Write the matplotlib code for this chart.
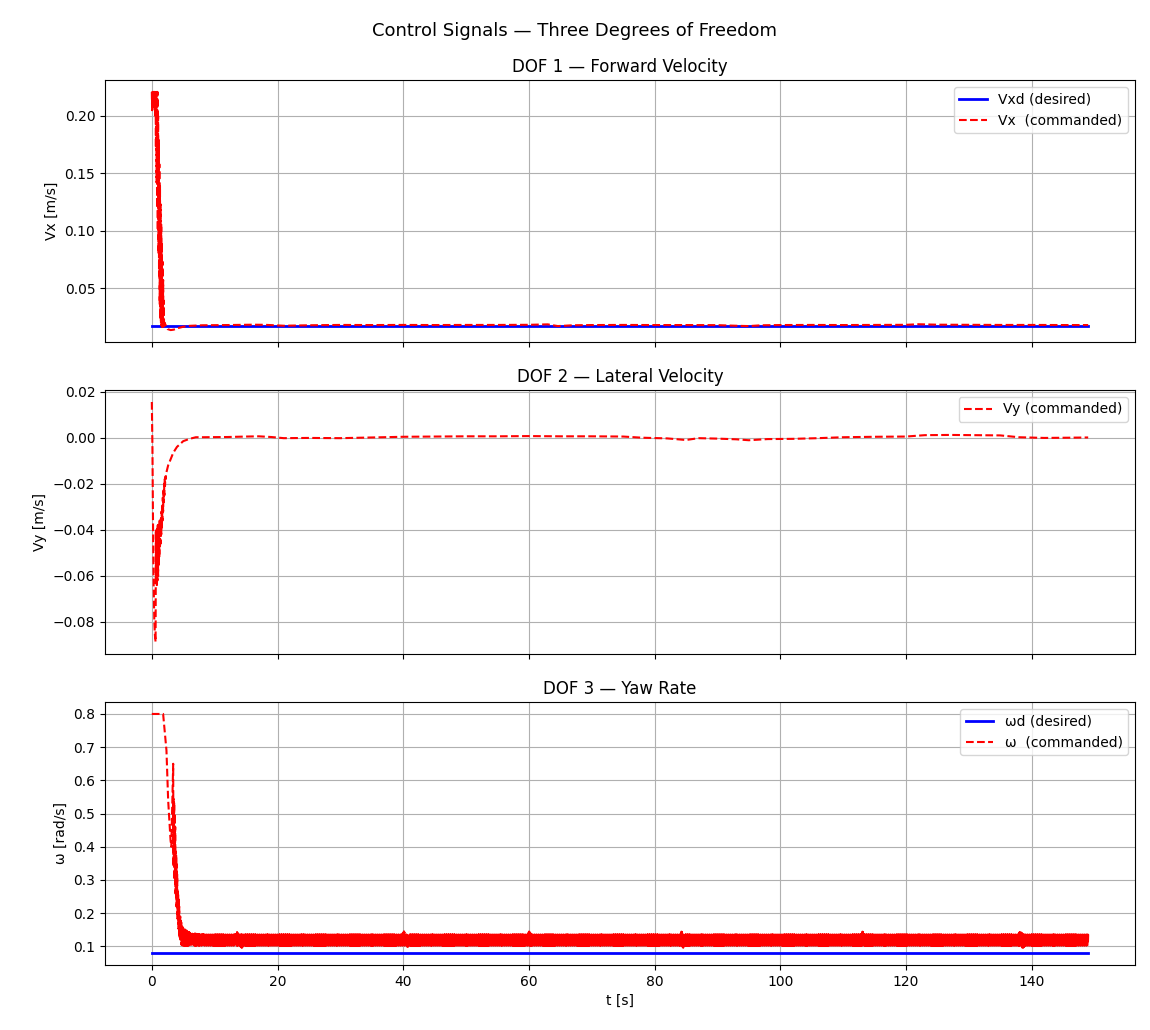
import numpy as np
import matplotlib
matplotlib.use("Agg")
import matplotlib.pyplot as plt

# ---------------- data ----------------
t_desired = [0.0, 149.0]
vxd = [0.0167, 0.0167]          # desired forward velocity
wd = [0.08, 0.08]               # desired yaw rate

# DOF 1 commanded forward velocity
vx_t = [0.00, 0.05, 0.10, 0.15, 0.20, 0.25, 0.30, 0.35, 0.40, 0.45, 0.50,
        0.55, 0.60, 0.65, 0.70, 0.75, 0.80, 0.85, 0.90, 0.95, 1.00, 1.05,
        1.10, 1.15, 1.20, 1.25, 1.30, 1.35, 1.40, 1.45, 1.50, 1.55, 1.60,
        1.65, 1.70, 1.75, 1.80, 1.85, 1.90, 1.95, 2.00, 2.50, 3.00, 3.50,
        4.00, 5.00, 6.00, 8.0, 12.0, 16.0, 18.0, 21.0, 25.0, 30.0, 35.0,
        40.0, 45.0, 50.0, 55.0, 60.0, 63.0, 64.6, 67.0, 70.0, 75.0, 80.0,
        85.0, 90.0, 93.5, 95.0, 97.0, 100.0, 105.0, 110.0, 115.0, 120.0,
        122.0, 125.0, 130.0, 135.0, 140.0, 145.0, 149.0]
vx = [0.221, 0.205, 0.221, 0.207, 0.221, 0.206, 0.221, 0.208, 0.221, 0.205,
      0.221, 0.200, 0.221, 0.172, 0.221, 0.142, 0.221, 0.120, 0.221, 0.100,
      0.200, 0.080, 0.179, 0.061, 0.158, 0.036, 0.139, 0.023, 0.123, 0.019,
      0.106, 0.017, 0.090, 0.016, 0.073, 0.016, 0.057, 0.0155, 0.039, 0.015,
      0.020, 0.0142, 0.0133, 0.0137, 0.0148, 0.0162, 0.0170, 0.0175, 0.0177,
      0.0180, 0.0179, 0.0171, 0.0175, 0.0178, 0.0177, 0.0178, 0.0177, 0.0178,
      0.0178, 0.0179, 0.0183, 0.0168, 0.0175, 0.0177, 0.0178, 0.0177, 0.0177,
      0.0176, 0.0170, 0.0168, 0.0175, 0.0177, 0.0178, 0.0177, 0.0178, 0.0179,
      0.0184, 0.0180, 0.0179, 0.0178, 0.0178, 0.0177, 0.0177]

# DOF 2 commanded lateral velocity
vy_t = [0.00, 0.10, 0.20, 0.30, 0.40, 0.50, 0.60, 0.65, 0.70, 0.75, 0.80,
        0.85, 0.90, 0.95, 1.00, 1.05, 1.10, 1.15, 1.20, 1.25, 1.30, 1.35,
        1.40, 1.45, 1.50, 1.55, 1.60, 1.65, 1.70, 1.75, 1.80, 1.85, 1.90,
        1.95, 2.00, 2.05, 2.10, 2.15, 2.20, 2.25, 2.30, 2.60, 2.90, 3.40,
        4.00, 5.00, 6.00, 7.00,
        8.0, 12.0, 15.0, 17.0, 19.0, 21.0, 25.0, 30.0, 35.0, 40.0, 45.0,
        50.0, 55.0, 60.0, 65.0, 70.0, 75.0, 78.0, 82.0, 85.0, 87.0, 90.0,
        93.0, 95.0, 98.0, 102.0, 106.0, 110.0, 115.0, 120.0, 123.0, 127.0,
        131.0, 135.0, 138.0, 142.0, 146.0, 149.0]
vy = [0.0155, -0.005, -0.040, -0.065, -0.080, -0.086, -0.0887, -0.040,
      -0.063, -0.040, -0.064, -0.039, -0.062, -0.038, -0.060, -0.037, -0.056,
      -0.037, -0.052, -0.036, -0.048, -0.036, -0.046, -0.035, -0.042, -0.032,
      -0.039, -0.029, -0.036, -0.026, -0.032, -0.023, -0.028, -0.020, -0.025,
      -0.018, -0.021, -0.017, -0.018, -0.016, -0.0153, -0.012, -0.010,
      -0.0066, -0.004, -0.0015, -0.0005, 0.0002,
      0.0002, 0.0003, 0.0005, 0.0006, 0.0003, -0.0002, -0.0001, -0.0002,
      0.0001, 0.0004, 0.0005, 0.0006, 0.0006, 0.0007, 0.0006, 0.0006, 0.0005,
      0.0000, -0.0003, -0.0010, -0.0002, -0.0004, -0.0007, -0.0011, -0.0006,
      -0.0005, -0.0002, 0.0002, 0.0004, 0.0005, 0.0011, 0.0012, 0.0011,
      0.0010, 0.0002, -0.0001, 0.0000, 0.0001]

# DOF 3 commanded yaw rate: saturated start, then a chattering band
w_t = [0.0, 1.5, 1.8, 2.33, 2.6, 2.98, 3.1, 3.4]
w = [0.80, 0.80, 0.80, 0.69, 0.54, 0.42, 0.40, 0.65]
# upper / lower edges of the chattering band
w_band_t = [3.4, 3.6, 3.8, 4.0, 4.2, 4.4, 4.7, 5.0, 5.5, 6.0, 7.0, 8.5,
            13.2, 13.5, 13.8, 14.0, 14.3, 14.6,
            39.8, 40.1, 40.4, 40.7, 41.0,
            59.8, 60.1, 60.4,
            84.0, 84.3, 84.6, 84.9,
            112.8, 113.1, 113.4,
            137.8, 138.2, 138.6, 139.0,
            149.0]
w_band_hi = [0.65, 0.52, 0.42, 0.33, 0.26, 0.21, 0.17, 0.155, 0.148, 0.142,
             0.138, 0.136,
             0.136, 0.145, 0.136, 0.136, 0.136, 0.136,
             0.136, 0.146, 0.136, 0.136, 0.136,
             0.136, 0.147, 0.136,
             0.136, 0.145, 0.136, 0.136,
             0.136, 0.145, 0.136,
             0.136, 0.145, 0.136, 0.136,
             0.136]
w_band_lo = [0.35, 0.30, 0.25, 0.20, 0.16, 0.125, 0.105, 0.102, 0.102,
             0.102, 0.102, 0.102,
             0.102, 0.102, 0.102, 0.102, 0.095, 0.102,
             0.102, 0.102, 0.102, 0.095, 0.102,
             0.102, 0.102, 0.102,
             0.102, 0.102, 0.095, 0.102,
             0.102, 0.102, 0.102,
             0.102, 0.102, 0.095, 0.102,
             0.102]
band_step = 0.04
# where each sample sits between the lower (0) and upper (1) band edge
band_pattern = [1.0, 0.0, 0.8, 0.1, 0.95, 0.0, 1.0, 0.2]

# build the chattering signal by stepping between the band edges
tb = np.arange(w_band_t[0], w_band_t[-1] + 1e-9, band_step)
hi = np.interp(tb, w_band_t, w_band_hi)
lo = np.interp(tb, w_band_t, w_band_lo)
frac = np.resize(band_pattern, len(tb))
wb = lo + frac * (hi - lo)
w_cmd_t = np.concatenate([w_t, tb[1:]])
w_cmd = np.concatenate([w, wb[1:]])

# ---------------- figure ----------------
fig = plt.figure(figsize=(11.5, 10.3), dpi=100)
L, W = 105 / 1150, 1030 / 1150
ax1 = fig.add_axes([L, (1030 - 342) / 1030, W, 262 / 1030])
ax2 = fig.add_axes([L, (1030 - 654) / 1030, W, 264 / 1030], sharex=ax1)
ax3 = fig.add_axes([L, (1030 - 965) / 1030, W, 263 / 1030], sharex=ax1)

fig.suptitle("Control Signals — Three Degrees of Freedom", fontsize=13, y=0.979)

ax1.plot(t_desired, vxd, color="blue", lw=2, label="Vxd (desired)")
ax1.plot(vx_t, vx, color="red", ls="--", lw=1.5, label="Vx  (commanded)")
ax1.set_title("DOF 1 — Forward Velocity")
ax1.set_ylabel("Vx [m/s]")
ax1.legend(loc="upper right")
ax1.grid(True)
ax1.tick_params(labelbottom=False)

ax2.plot(vy_t, vy, color="red", ls="--", lw=1.5, label="Vy (commanded)")
ax2.set_title("DOF 2 — Lateral Velocity")
ax2.set_ylabel("Vy [m/s]")
ax2.legend(loc="upper right")
ax2.grid(True)
ax2.tick_params(labelbottom=False)

ax3.plot(t_desired, wd, color="blue", lw=2, label="ωd (desired)")
ax3.plot(w_cmd_t, w_cmd, color="red", ls="--", lw=1.5, label="ω  (commanded)")
ax3.set_title("DOF 3 — Yaw Rate")
ax3.set_ylabel("ω [rad/s]")
ax3.set_xlabel("t [s]")
ax3.legend(loc="upper right")
ax3.grid(True)

fig.savefig("out.png", dpi=100)
